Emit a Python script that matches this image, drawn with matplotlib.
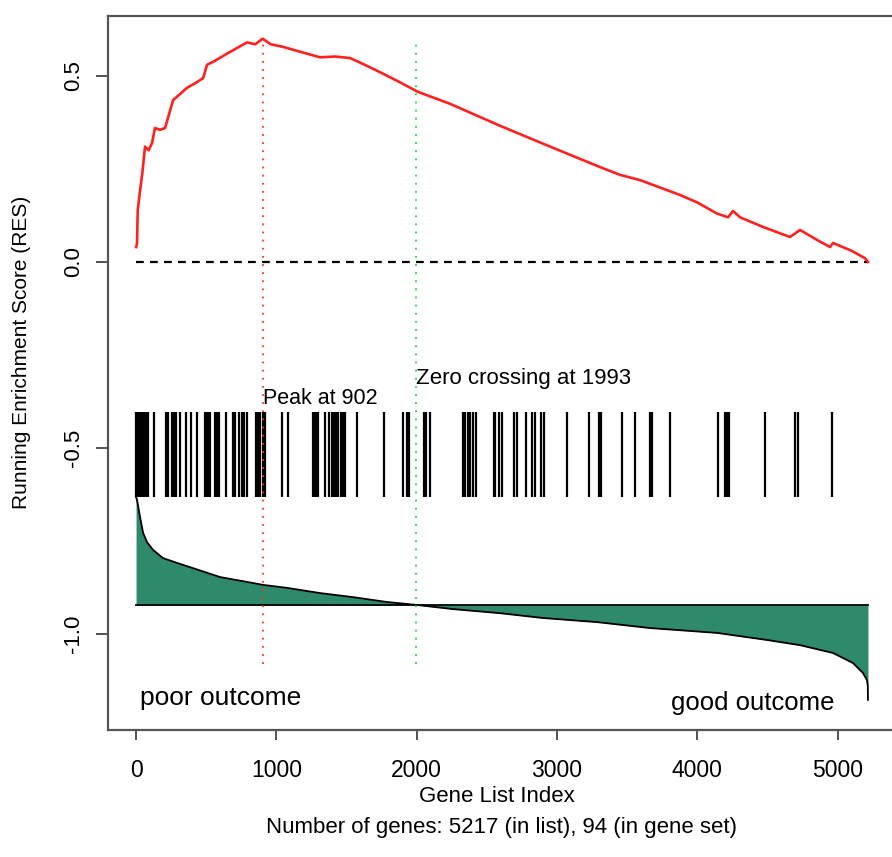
import matplotlib
matplotlib.use("Agg")
import matplotlib.pyplot as plt
import numpy as np

plt.rcParams['font.family'] = ['Liberation Sans', 'DejaVu Sans']

# running enrichment score
res_x = [1, 7, 12, 28, 45, 64, 90, 114, 135, 170, 207, 264, 310, 363, 420, 478, 506,
         560, 649, 720, 791, 850, 902, 960, 1048, 1169, 1311, 1420, 1525, 1630, 1739,
         1870, 2010, 2238, 2594, 2951, 3307, 3450, 3592, 3806, 3877, 4000, 4141, 4220,
         4255, 4305, 4469, 4661, 4733, 4850, 4947, 4968, 5100, 5196, 5217]
res_y = [0.04, 0.05, 0.14, 0.19, 0.24, 0.31, 0.30, 0.32, 0.36, 0.355, 0.36, 0.435, 0.45,
         0.468, 0.48, 0.494, 0.53, 0.54, 0.56, 0.575, 0.59, 0.585, 0.60, 0.585, 0.578,
         0.565, 0.55, 0.552, 0.548, 0.53, 0.51, 0.485, 0.457, 0.425, 0.366, 0.31, 0.255,
         0.234, 0.22, 0.19, 0.18, 0.16, 0.13, 0.12, 0.137, 0.12, 0.094, 0.067, 0.086,
         0.06, 0.04, 0.051, 0.03, 0.01, 0.0]

# positions of the gene set members in the ranked list
hits = [1, 12, 25, 38, 50, 62, 74, 84, 130, 215, 225, 255, 270, 285, 315, 355, 390,
        435, 490, 500, 512, 530, 565, 580, 592, 640, 690, 705, 735, 752, 770, 790,
        855, 870, 885, 905, 918, 1040, 1085, 1260, 1275, 1290, 1300, 1350, 1372, 1395,
        1412, 1425, 1440, 1462, 1475, 1488, 1575, 1770, 1905, 1932, 1948, 2050, 2070,
        2095, 2330, 2345, 2368, 2380, 2405, 2420, 2550, 2562, 2585, 2608, 2695, 2715,
        2780, 2825, 2845, 2885, 2905, 3070, 3230, 3300, 3315, 3465, 3555, 3660, 3675,
        3805, 4148, 4200, 4215, 4230, 4480, 4700, 4720, 4962]

# ranked list metric (scaled into the lower panel)
metric_x = [0, 7, 28, 50, 78, 121, 192, 292, 406, 599, 834, 905, 1076, 1311, 1547,
            1789, 2003, 2259, 2594, 2901, 3286, 3664, 4141, 4497, 4733, 4968, 5110,
            5182, 5210, 5216, 5217]
metric_y = [-0.632, -0.640, -0.685, -0.728, -0.753, -0.774, -0.796, -0.809, -0.823,
            -0.847, -0.863, -0.868, -0.876, -0.890, -0.901, -0.914, -0.922, -0.933,
            -0.944, -0.957, -0.968, -0.984, -0.997, -1.016, -1.030, -1.051, -1.078,
            -1.105, -1.124, -1.14, -1.177]
metric_zero = -0.922

n_genes = 5217
n_set = 94
peak = 902
zero_cross = 1993

x_ticks = [0, 1000, 2000, 3000, 4000, 5000]
y_ticks = [-1.0, -0.5, 0.0, 0.5]

fig = plt.figure(figsize=(8.92, 8.57), dpi=100)
ax = fig.add_axes([108 / 892, 127 / 857, 789 / 892, 714 / 857])

# ranked metric area
ax.fill_between(metric_x, metric_y, metric_zero, color='#2f8a6c', linewidth=0)
ax.plot(metric_x, metric_y, color='black', lw=1.3)
ax.plot([0, n_genes], [metric_zero, metric_zero], color='black', lw=1.3)

# hit barcode
ax.vlines(hits, -0.632, -0.403, color='black', lw=1.6)

# peak and zero crossing markers
ax.vlines(peak, -1.08, 0.60, color='#ff3030', lw=1.3, linestyles=(0, (1, 3.5)))
ax.vlines(zero_cross, -1.08, 0.60, color='#33cc33', lw=1.3, linestyles=(0, (1, 3.5)))

# running enrichment score
ax.plot([0, n_genes], [0, 0], color='black', lw=1.6, linestyle=(0, (3.5, 2.8)))
ax.plot(res_x, res_y, color='#ff2020', lw=1.9)

ax.text(peak, -0.366, "Peak at %d" % peak, fontsize=15.5, ha='left', va='center')
ax.text(zero_cross, -0.312, "Zero crossing at %d" % zero_cross, fontsize=16,
        ha='left', va='center')
ax.text(28, -1.172, "poor outcome", fontsize=19, ha='left', va='center')
ax.text(4982, -1.185, "good outcome", fontsize=18.5, ha='right', va='center')

ax.set_xlim(-200, 5424)
ax.set_ylim(-1.258, 0.661)
ax.set_xticks(x_ticks)
ax.set_yticks(y_ticks)
ax.set_xticklabels([str(t) for t in x_ticks], fontsize=16.5)
ax.set_yticklabels(["%.1f" % t for t in y_ticks], fontsize=16, rotation=90, va='center')
ax.tick_params(axis='x', direction='out', length=7, width=1.2, pad=14, color='#333333')
ax.tick_params(axis='y', direction='out', length=9, width=1.2, pad=8, color='#333333')

for s in ['top', 'left', 'bottom']:
    ax.spines[s].set_color('#555555')
    ax.spines[s].set_linewidth(1.6)
ax.spines['right'].set_visible(False)

fig.text(22 / 892, 1 - 352 / 857, "Running Enrichment Score (RES)", rotation=90,
         fontsize=15, ha='center', va='center')
fig.text(497 / 892, 1 - 797 / 857, "Gene List Index", fontsize=16, ha='center', va='center')
fig.text(502 / 892, 1 - 827 / 857,
         "Number of genes: %d (in list), %d (in gene set)" % (n_genes, n_set),
         fontsize=16, ha='center', va='center')

fig.savefig("out.png", dpi=100)
